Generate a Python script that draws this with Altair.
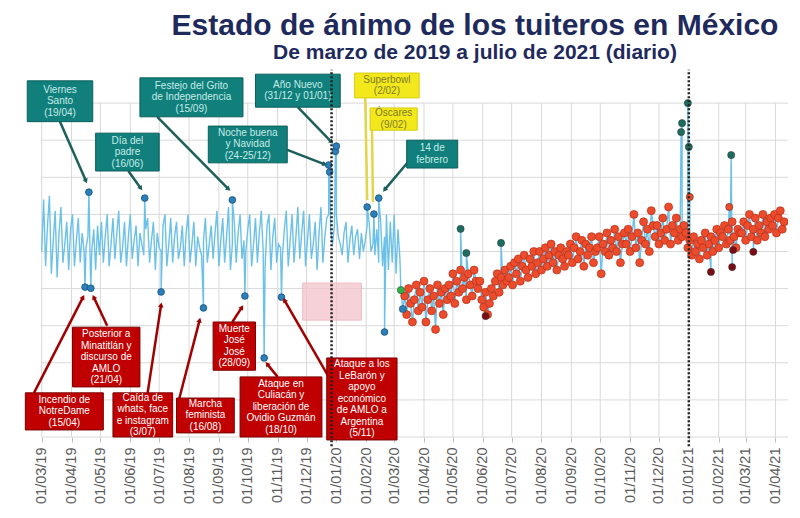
import math
import altair as alt
import pandas as pd

titulo = "Estado de ánimo de los tuiteros en México"
subtitulo = "De marzo de 2019 a julio de 2021 (diario)"

# ---- Serie 1: marzo 2019 - marzo 2020 (un valor cada 2 días) ----
inicio_2019 = "2019-03-01"
valores_2019 = [
    50, 64, 46, 57, 65, 44, 53, 61, 43, 55, 62, 47, 52, 58, 45,
    56, 60, 46, 53, 59, 47, 55, 50, 51, 54, 52, 50, 56, 45, 57,
    49, 58, 47, 54, 60, 46, 52, 59, 48, 55, 61, 47, 51, 58, 46,
    54, 60, 48, 53, 57, 46, 55, 52, 49, 56, 59, 47, 53, 58, 45,
    55, 51, 50, 57, 60, 46, 52, 59, 47, 54, 58, 48, 51, 57, 46,
    55, 60, 47, 52, 58, 46, 54, 51, 49, 53, 59, 47, 52, 57, 48,
    55, 61, 46, 53, 59, 47, 54, 62, 45, 52, 58, 47, 55, 60, 48,
    53, 50, 56, 60, 46, 52, 59, 47, 55, 61, 50, 46, 57, 60, 45,
    54, 59, 47, 52, 51, 49, 56, 61, 46, 53, 60, 47, 54, 62, 48,
    55, 61, 46, 53, 60, 48, 52, 58, 45, 55, 62, 47, 54, 59, 60,
    56, 52, 57, 60, 54, 52, 49, 55, 58, 47, 53, 57, 49, 54, 56,
    48, 55, 50, 53, 57, 58, 50, 52, 49, 56, 47, 58, 46, 54, 60,
    45, 58, 47, 60, 44, 56, 48,
]

# Días destacados 2019-2020 (puntos azules)
eventos_fechas = [
    "2019-04-15", "2019-04-19", "2019-04-21", "2019-06-16", "2019-07-03",
    "2019-08-16", "2019-09-15", "2019-09-28", "2019-10-18", "2019-11-05",
    "2019-12-24", "2019-12-25", "2019-12-31", "2020-01-01", "2020-02-02",
    "2020-02-09", "2020-02-14", "2020-02-20",
]
eventos_valores = [
    40.4, 66.0, 40.1, 64.4, 39.1,
    34.8, 63.9, 38.0, 21.3, 37.7,
    73.3, 71.4, 77.0, 78.4, 62.0,
    60.1, 64.4, 28.3,
]

# ---- Serie 2: marzo 2020 - abril 2021 (un valor cada 2 días) ----
inicio_2020 = "2020-03-12"
valores_2020 = [
    38, 33, 40, 36, 31, 37, 41, 34,
    39, 35, 42, 31, 37, 40, 34, 38, 29, 41, 36, 39, 33, 40, 37,
    41, 38, 44, 36, 42, 39, 45, 40, 43, 37, 44, 41, 38, 45, 42, 40,
    42, 37, 35, 39, 33, 36, 40, 38, 42, 44, 39, 43, 41, 45, 42,
    43, 46, 41, 47, 44, 48, 42, 46, 49, 45, 43, 48, 46, 50, 44,
    47, 50, 45, 48, 51, 46, 49, 52, 47, 50, 45, 49, 51, 48, 46, 50,
    49, 52, 47, 51, 54, 48, 50, 53, 46, 52, 49, 51, 54, 47, 50,
    51, 54, 44, 52, 50, 55, 49, 53, 51, 56, 50, 54, 47, 52, 55,
    52, 56, 50, 54, 60, 51, 55, 47, 53, 58, 52, 56, 50, 61, 57,
    54, 57, 52, 55, 59, 53, 56, 62, 52, 57, 55, 59, 53, 56, 54, 57,
    55, 51, 53, 49, 54, 50, 52, 48, 53, 51, 55, 49, 52, 54, 50,
    53, 56, 51, 55, 54, 57, 52, 56, 53, 58, 54, 51, 56, 55,
    55, 58, 53, 57, 60, 54, 56, 59, 53, 57, 55, 60, 54, 58, 56, 59,
    57, 60, 55, 59, 61, 56, 58,
]

destacados_fechas = [
    "2020-03-08", "2020-03-10",
    "2020-05-09", "2020-05-15", "2020-06-20", "2020-12-24", "2020-12-25",
    "2020-12-31", "2021-01-01", "2021-02-14",
    "2020-06-04", "2021-01-24", "2021-02-15", "2021-02-16", "2021-03-09",
    "2021-01-02", "2021-02-12",
]
destacados_valores = [
    39.6, 34.5,
    56.1, 49.6, 52.3, 82.2, 84.6,
    90.0, 78.2, 76.0,
    32.6, 44.5, 45.8, 50.4, 49.9,
    64.7, 62.0,
]
destacados_tipo = [
    "inicio", "azul",
    "alto", "alto", "alto", "alto", "alto",
    "alto", "alto", "alto",
    "bajo", "bajo", "bajo", "bajo", "bajo",
    "normal", "normal",
]

# ---- Anotaciones ----
ann_tipo = ["verde", "verde", "verde", "verde", "verde", "verde",
            "amarillo", "amarillo",
            "rojo", "rojo", "rojo", "rojo", "rojo", "rojo", "rojo"]
ann_texto = [
    "Viernes\nSanto\n(19/04)",
    "Día del\npadre\n(16/06)",
    "Festejo del Grito\nde Independencia\n(15/09)",
    "Noche buena\ny Navidad\n(24-25/12)",
    "Año Nuevo\n(31/12 y 01/01)",
    "14 de\nfebrero",
    "Superbowl\n(2/02)",
    "Óscares\n(9/02)",
    "Incendio de\nNotreDame\n(15/04)",
    "Posterior a\nMinatitlán y\ndiscurso de\nAMLO\n(21/04)",
    "Caída de\nwhats, face\ne instagram\n(3/07)",
    "Marcha\nfeminista\n(16/08)",
    "Muerte\nJosé\nJosé\n(28/09)",
    "Ataque en\nCuliacán y\nliberación de\nOvidio Guzmán\n(18/10)",
    "Ataque a los\nLeBarón y\napoyo\neconómico\nde AMLO a\nArgentina\n(5/11)",
]
caja_desde = ["2019-02-14", "2019-04-26", "2019-06-11", "2019-08-21", "2019-10-09", "2020-03-14",
              "2020-01-20", "2020-02-05",
              "2019-02-12", "2019-04-02", "2019-05-14", "2019-07-19", "2019-08-26", "2019-09-23", "2019-12-22"]
caja_hasta = ["2019-04-23", "2019-07-01", "2019-09-26", "2019-11-11", "2020-01-05", "2020-05-06",
              "2020-03-27", "2020-03-25",
              "2019-05-04", "2019-06-11", "2019-07-15", "2019-09-17", "2019-10-09", "2019-12-17", "2020-03-04"]
caja_abajo = [85.0, 71.7, 86.3, 73.9, 88.9, 72.5,
              91.4, 82.7,
              1.9, 13.5, 0.0, 1.1, 18.0, 0.0, -0.8]
caja_arriba = [96.0, 81.9, 96.8, 83.8, 97.8, 80.0,
               98.1, 88.7,
               11.9, 29.6, 11.9, 10.5, 31.0, 16.2, 21.3]
flecha_desde_fecha = ["2019-03-20", "2019-05-30", "2019-06-29", "2019-11-11", "2019-11-22", "2020-03-15",
                      "2020-01-31", "2020-02-07",
                      "2019-02-21", "2019-05-08", "2019-06-19", "2019-07-22", "2019-09-15", "2019-11-01", "2019-12-23"]
flecha_desde_valor = [85.0, 71.7, 86.3, 77.4, 88.9, 74.0,
                      91.4, 82.7,
                      11.9, 30.0, 11.9, 10.5, 31.0, 16.2, 16.7]
flecha_hasta_fecha = ["2019-04-16", "2019-06-12", "2019-09-11", "2019-12-20", "2019-12-27", "2020-02-20",
                      "2020-02-02", "2020-02-08",
                      "2019-04-13", "2019-04-24", "2019-07-03", "2019-08-12", "2019-09-25", "2019-10-21", "2019-11-08"]
flecha_hasta_valor = [69.0, 67.0, 66.8, 73.5, 79.5, 66.6,
                      63.9, 63.3,
                      37.7, 37.7, 35.6, 31.5, 35.0, 19.7, 36.9]

lineas_anio = ["2019-12-27", "2021-01-01"]
banda_rosa = {"desde": "2019-11-27", "hasta": "2020-01-27", "abajo": 31.5, "arriba": 41.5}

meses = pd.date_range("2019-03-01", "2021-04-01", freq="MS")
niveles_grid = [0, 10, 20, 30, 40, 50, 60, 70, 80, 90]

# ---- Escalas y tamaños ----
ANCHO, ALTO = 780, 371
DOM_INI, DOM_FIN = pd.Timestamp("2019-01-25"), pd.Timestamp("2021-04-14")
PX_DIA = ANCHO / (DOM_FIN - DOM_INI).days
PX_VAL = ALTO / 100.0
ALTO_LINEA = 11.5


def dt(ts):
    ts = pd.Timestamp(ts)
    return alt.DateTime(year=ts.year, month=ts.month, date=ts.day, utc=True)


xscale = alt.Scale(type="utc", domain=[dt(DOM_INI), dt(DOM_FIN)])
yscale = alt.Scale(domain=[0, 100], nice=False, zero=False)
xaxis = alt.Axis(values=[dt(m) for m in meses],
                 labelExpr="utcFormat(datum.value, '%d/%m/%y')",
                 labelAngle=-90, labelFontSize=14.5, labelColor="#595959",
                 labelFont="Liberation Sans", labelPadding=5, tickSize=5,
                 tickColor="#c0c0c0", domain=False, grid=False, title=None)


def X(f):
    return alt.X(f, type="temporal", scale=xscale, axis=xaxis, title=None)


def Y(f):
    return alt.Y(f, type="quantitative", scale=yscale, axis=None, title=None)


def s(fechas):
    return [pd.Timestamp(f).strftime("%Y-%m-%d") for f in fechas]


# ---- Tablas ----
fechas1 = s(pd.date_range(inicio_2019, periods=len(valores_2019), freq="2D"))
fechas2 = s(pd.date_range(inicio_2020, periods=len(valores_2020), freq="2D"))

linea = pd.concat([
    pd.DataFrame({"fecha": fechas1, "valor": valores_2019}),
    pd.DataFrame({"fecha": s(eventos_fechas), "valor": eventos_valores}),
    pd.DataFrame({"fecha": fechas2, "valor": valores_2020}),
    pd.DataFrame({"fecha": s(destacados_fechas), "valor": destacados_valores}),
]).sort_values("fecha")

puntos2 = pd.DataFrame({"fecha": fechas2, "valor": valores_2020})
eventos = pd.DataFrame({"fecha": s(eventos_fechas), "valor": eventos_valores})
destacados = pd.DataFrame({"fecha": s(destacados_fechas), "valor": destacados_valores,
                           "tipo": destacados_tipo})

grid_h = pd.DataFrame({"fecha": "2019-03-01", "fecha2": DOM_FIN.strftime("%Y-%m-%d"),
                       "valor": niveles_grid})
grid_v = pd.DataFrame({"fecha": s(meses), "v0": 0, "v1": 90})
anios = pd.DataFrame({"fecha": lineas_anio, "v0": -2.5, "v1": 99})
rosa = pd.DataFrame([banda_rosa])

cajas = pd.DataFrame({
    "tipo": ann_tipo, "texto": ann_texto,
    "x1": caja_desde, "x2": caja_hasta, "y1": caja_abajo, "y2": caja_arriba,
})
cajas["xm"] = [(pd.Timestamp(a) + (pd.Timestamp(b) - pd.Timestamp(a)) / 2).strftime("%Y-%m-%dT%H:%M:%SZ")
               for a, b in zip(caja_desde, caja_hasta)]
# centro vertical del bloque de texto: primera línea desplazada hacia arriba
cajas["ym"] = [(a + b) / 2 + (t.count("\n") / 2) * ALTO_LINEA / PX_VAL
               for a, b, t in zip(caja_abajo, caja_arriba, ann_texto)]

flechas = pd.DataFrame({
    "tipo": ann_tipo,
    "fa": flecha_desde_fecha, "va": flecha_desde_valor,
    "fb": flecha_hasta_fecha, "vb": flecha_hasta_valor,
})
angulos = []
for fa, va, fb, vb in zip(flecha_desde_fecha, flecha_desde_valor, flecha_hasta_fecha, flecha_hasta_valor):
    dx = (pd.Timestamp(fb) - pd.Timestamp(fa)).days * PX_DIA
    dy = -(vb - va) * PX_VAL
    angulos.append((math.degrees(math.atan2(dx, -dy)) + 360) % 360)
flechas["ang"] = angulos
puntas = flechas[flechas["tipo"] != "amarillo"]

tipos_caja = ["verde", "amarillo", "rojo"]
color_caja = ["#117f7b", "#f3e81c", "#c00000"]
borde_caja = ["#0b5e5b", "#d8cc10", "#7a0000"]
color_texto = ["#c4ece8", "#807c2a", "#ffffff"]
color_flecha = ["#1d5f5a", "#e2d548", "#a00000"]

# ---- Capas ----
c_grid_h = alt.Chart(grid_h).mark_rule(color="#d9d9d9", strokeWidth=1).encode(
    x=X("fecha"), x2=alt.X2("fecha2"), y=Y("valor"))
c_grid_v = alt.Chart(grid_v).mark_rule(color="#d9d9d9", strokeWidth=1).encode(
    x=X("fecha"), y=Y("v0"), y2=alt.Y2("v1"))
c_rosa = alt.Chart(rosa).mark_rect(color="#f3c3cc", opacity=0.75, stroke="#eaa9b6").encode(
    x=X("desde"), x2=alt.X2("hasta"), y=Y("abajo"), y2=alt.Y2("arriba"))
c_linea = alt.Chart(linea).mark_line(color="#6cc1e8", strokeWidth=1.4, interpolate="linear").encode(
    x=X("fecha"), y=Y("valor"), order="fecha:T")
c_puntos2 = alt.Chart(puntos2).mark_point(filled=True, size=64, opacity=1, color="#ec4b2c",
                                          stroke="#b5301a", strokeWidth=0.7).encode(
    x=X("fecha"), y=Y("valor"))
c_eventos = alt.Chart(eventos).mark_point(filled=True, size=45, opacity=1, color="#2b7fba",
                                          stroke="#154f78", strokeWidth=0.8).encode(
    x=X("fecha"), y=Y("valor"))
c_dest = alt.Chart(destacados).mark_point(filled=True, size=52, opacity=1, stroke="#333333",
                                          strokeWidth=0.5).encode(
    x=X("fecha"), y=Y("valor"),
    fill=alt.Fill("tipo:N", legend=None,
                  scale=alt.Scale(domain=["inicio", "azul", "alto", "bajo", "normal"],
                                  range=["#2db34a", "#2b7fba", "#1b6d5f", "#7a0c14", "#ec4b2c"])))
c_flechas = alt.Chart(flechas).mark_rule(strokeWidth=2.5).encode(
    x=X("fa"), x2=alt.X2("fb"), y=Y("va"), y2=alt.Y2("vb"),
    color=alt.Color("tipo:N", legend=None, scale=alt.Scale(domain=tipos_caja, range=color_flecha)))
c_puntas = alt.Chart(puntas).mark_point(shape="triangle-up", filled=True, size=30, opacity=1).encode(
    x=X("fb"), y=Y("vb"), angle=alt.Angle("ang:Q", scale=None),
    color=alt.Color("tipo:N", legend=None, scale=alt.Scale(domain=tipos_caja, range=color_flecha)))
c_cajas = alt.Chart(cajas).mark_rect(strokeWidth=1).encode(
    x=X("x1"), x2=alt.X2("x2"), y=Y("y1"), y2=alt.Y2("y2"),
    fill=alt.Fill("tipo:N", legend=None, scale=alt.Scale(domain=tipos_caja, range=color_caja)),
    stroke=alt.Stroke("tipo:N", legend=None, scale=alt.Scale(domain=tipos_caja, range=borde_caja)))
c_textos = alt.Chart(cajas).mark_text(lineBreak="\n", fontSize=10, lineHeight=ALTO_LINEA,
                                      font="Liberation Sans", align="center",
                                      baseline="middle").encode(
    x=X("xm"), y=Y("ym"), text="texto:N",
    color=alt.Color("tipo:N", legend=None, scale=alt.Scale(domain=tipos_caja, range=color_texto)))
c_anios = alt.Chart(anios).mark_rule(color="#222222", strokeWidth=2.5, strokeDash=[2, 2]).encode(
    x=X("fecha"), y=Y("v0"), y2=alt.Y2("v1"))

chart = alt.layer(
    c_grid_h, c_grid_v, c_rosa, c_linea, c_puntos2, c_eventos, c_dest,
    c_flechas, c_puntas, c_cajas, c_textos, c_anios,
).resolve_scale(color="independent", fill="independent", stroke="independent").properties(
    width=ANCHO, height=ALTO,
    autosize=alt.AutoSizeParams(type="none"),
    padding={"left": 0, "top": 58, "right": 0, "bottom": 75},
    title=alt.TitleParams(
        text=titulo, subtitle=subtitulo, font="Liberation Sans", fontSize=30,
        fontWeight="bold", color="#1f2a5c", subtitleFont="Liberation Sans",
        subtitleFontSize=21, subtitleFontWeight="bold", subtitleColor="#1f2a5c",
        anchor="middle", dx=77, offset=3, subtitlePadding=1),
).configure_view(stroke=None)

chart.save("out.html", embed_options={"renderer": "svg", "actions": False})
